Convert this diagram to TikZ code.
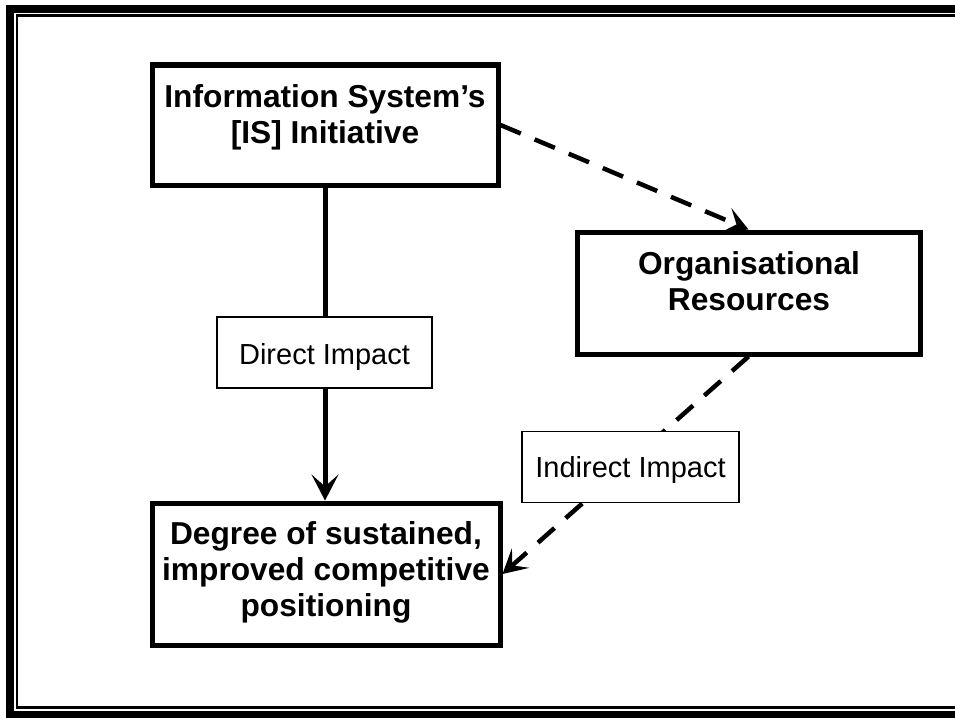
\documentclass[tikz,border=0pt]{standalone}
\usepackage{fontspec}
\setmainfont{Liberation Sans}
\usetikzlibrary{arrows.meta}
\begin{document}
\begin{tikzpicture}[x=1pt,y=-1pt,
  box/.style={draw, line width=5pt, rectangle, inner sep=0pt},
  boxtext/.style={align=center, font=\fontsize{31.7}{36}\selectfont\bfseries, inner sep=0pt},
  lbl/.style={draw, fill=white, line width=1.5pt, inner sep=0pt, font=\fontsize{29}{34}\selectfont},
  solidarrow/.style={line width=5pt, -{Stealth[length=26pt,width=27pt,inset=12pt]}},
  dasharrow/.style={line width=4.5pt, dash pattern=on 22pt off 15pt, -{Stealth[length=24pt,width=26pt,inset=11pt]}}
]
\useasboundingbox (0,0) rectangle (955,717);
% frame
\draw[line width=7.5pt] (10,9) rectangle (980,714.5);
\draw[line width=2.2pt] (17,15.5) rectangle (975,707.5);
% boxes
\node[box, minimum width=346pt, minimum height=120pt] (is) at (325,125) {};
\node[box, minimum width=343pt, minimum height=122pt] (org) at (748.5,293) {};
\node[box, minimum width=348pt, minimum height=142pt] (deg) at (326,574) {};
\node[boxtext] (istext) at (325,117.5) {Information System’s\\{[IS]} Initiative};
\node[boxtext] (orgtext) at (749,281) {Organisational\\Resources};
\node[boxtext] (degtext) at (326,572.5) {Degree of sustained,\\improved competitive\\positioning};
% connectors
\draw[solidarrow] (is.south) -- (is.south |- deg.north);
\draw[dasharrow] (is.east) -- (org.north);
\draw[dasharrow] (org.south) -- (deg.east);
% labels
\node[lbl, minimum width=215pt, minimum height=71pt, text height=28.6pt, text depth=6pt] (direct) at (324.5,352.7) {Direct Impact};
\node[lbl, minimum width=217pt, minimum height=71pt, text height=26.2pt, text depth=6pt] (indirect) at (630.5,467.2) {Indirect Impact};
\end{tikzpicture}
\end{document}
